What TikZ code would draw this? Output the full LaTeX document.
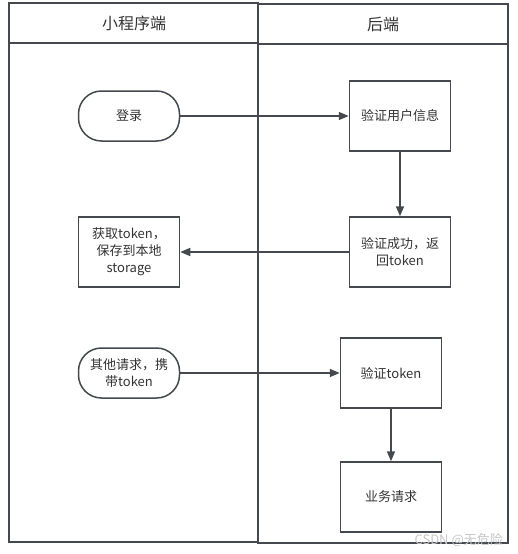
\documentclass[tikz,border=0pt]{standalone}
\usepackage{fontspec}
\newfontfamily\cjk{Noto Sans CJK SC}
\usetikzlibrary{arrows.meta, positioning}
\definecolor{lineg}{HTML}{45494E}
\definecolor{txtg}{HTML}{333333}

\begin{document}
\begin{tikzpicture}[
    x=1pt, y=-1pt,
    >={Triangle[length=10pt, width=8pt]},
    arr/.style={->, draw=lineg, line width=1.5pt},
    lane/.style={draw=lineg, line width=2pt},
    lbl/.style={font=\cjk\fontsize{13}{17}\selectfont, text=txtg, align=center},
    hdr/.style={font=\cjk\fontsize{16}{19}\selectfont, text=txtg},
    proc/.style={lbl, draw=lineg, line width=1.5pt, minimum width=101pt, minimum height=70pt, inner sep=2pt},
    term/.style={lbl, draw=lineg, line width=1.5pt, rounded corners=23pt, minimum width=101pt, minimum height=50pt, inner sep=2pt},
]
\useasboundingbox (0,0) rectangle (518,554);
% === Swim lanes ===
\foreach \xa/\xb/\ya/\yb/\yh in {9/258/3/542/43, 258/508/4/543/44} {
    \draw[lane] (\xa,\ya) rectangle (\xb,\yb);
    \draw[lane] (\xa,\yh) -- (\xb,\yh);
}
\node[hdr] (hclient) at (134,23) {小程序端};
\node[hdr] (hserver) at (383,24) {后端};
% === Client side ===
\node[term] (login) at (129,116) {登录};
\node[proc] (store) at (129,252) {获取token，\\保存到本地\\storage};
\node[term] (req) at (129,373) {其他请求，携\\带token};
% === Server side ===
\node[proc] (check) at (400,116) {验证用户信息};
\node[proc] (ok) at (400,252) {验证成功，返\\回token};
\node[proc] (vtok) at (391,373) {验证token};
\node[proc] (biz) at (391,497) {业务请求};
% === Flow ===
\draw[arr] (login) -- (check);
\draw[arr] (check) -- (ok);
\draw[arr] (ok) -- (store);
\draw[arr] (req) -- (vtok);
\draw[arr] (vtok) -- (biz);
% watermark
\node[font=\cjk\fontsize{13}{16}\selectfont, text=gray!45, anchor=south east, inner sep=0pt] (mark) at (503,547) {CSDN @无危险};
\end{tikzpicture}
\end{document}
